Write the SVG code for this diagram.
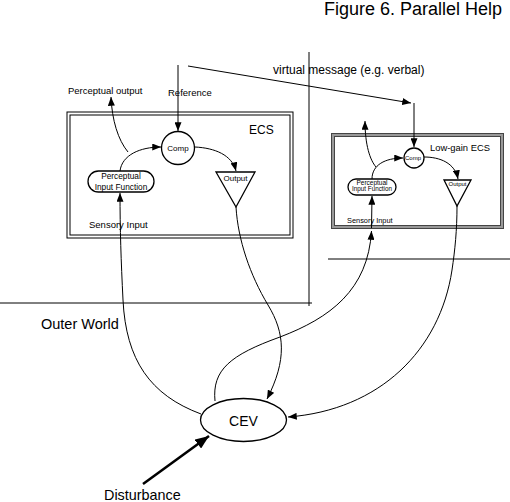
<svg xmlns="http://www.w3.org/2000/svg" width="510" height="502" viewBox="0 0 510 502">
<style>
text{font-family:"Liberation Sans",Arial,sans-serif;fill:#000}
.ln{fill:none;stroke:#000;stroke-width:1}
.sh{fill:#fff;stroke:#000;stroke-width:1.3}
</style>
<defs>
<marker id="ah" viewBox="0 0 10 8" refX="10" refY="4" markerWidth="9" markerHeight="7" markerUnits="userSpaceOnUse" orient="auto">
<path d="M0,0 L10,4 L0,8 z" fill="#000"/>
</marker>
<marker id="ahb" viewBox="0 0 10 8" refX="10" refY="4" markerWidth="14" markerHeight="11" markerUnits="userSpaceOnUse" orient="auto">
<path d="M0,0 L10,4 L0,8 z" fill="#000"/>
</marker>
</defs>
<rect width="510" height="502" fill="#fff"/>
<text x="502" y="15" font-size="18" text-anchor="end">Figure 6. Parallel Help</text>
<g id="boundaries">
<line class="ln" x1="309" y1="52" x2="309" y2="306"/>
<line class="ln" x1="0" y1="303" x2="312" y2="303"/>
<line class="ln" x1="328" y1="259" x2="510" y2="259"/>
</g>
<text x="41" y="329" font-size="14.5">Outer World</text>
<g id="ecs">
<rect x="67" y="112" width="226" height="126" fill="none" stroke="#000" stroke-width="1"/>
<rect x="70" y="115" width="220" height="120" fill="none" stroke="#000" stroke-width="1"/>
<text x="249" y="134" font-size="12">ECS</text>
<text x="89" y="228" font-size="9.5">Sensory Input</text>
</g>
<g id="comp">
<circle class="sh" cx="178" cy="148" r="16.5"/>
<text x="178" y="151" font-size="8" text-anchor="middle">Comp</text>
</g>
<g id="pif">
<rect class="sh" x="88" y="171" width="66" height="21" rx="10.5"/>
<text x="121" y="179" font-size="8.3" text-anchor="middle">Perceptual</text>
<text x="121" y="189.5" font-size="8.3" text-anchor="middle">Input Function</text>
</g>
<g id="output">
<polygon class="sh" points="216,172 255,172 236,207"/>
<text x="235.5" y="180.5" font-size="8" text-anchor="middle">Output</text>
</g>
<g id="lowgain-ecs">
<rect x="333" y="135" width="169" height="92" fill="none" stroke="#444" stroke-width="4"/>
<rect x="333" y="135" width="169" height="92" fill="none" stroke="#999" stroke-width="2"/>
<text x="430" y="151" font-size="9.4">Low-gain ECS</text>
<text x="347" y="222.5" font-size="7.4">Sensory Input</text>
</g>
<g id="comp2">
<circle class="sh" cx="414" cy="158" r="10"/>
<text x="413" y="160" font-size="6" text-anchor="middle">Comp</text>
</g>
<g id="pif2">
<rect class="sh" x="348" y="179" width="48" height="16" rx="8"/>
<text x="372" y="184.5" font-size="6.5" text-anchor="middle">Perceptual</text>
<text x="372" y="191" font-size="6.5" text-anchor="middle" textLength="40" lengthAdjust="spacingAndGlyphs">Input Function</text>
</g>
<g id="output2">
<polygon class="sh" points="444,180 471,180 457,206"/>
<text x="457.5" y="186" font-size="6" text-anchor="middle">Output</text>
</g>
<g id="cev">
<ellipse class="sh" cx="243.5" cy="420" rx="43" ry="21.5"/>
<text x="243.5" y="426" font-size="14" text-anchor="middle">CEV</text>
</g>
<text x="104" y="500" font-size="14.4">Disturbance</text>
<text x="68" y="94" font-size="9.5">Perceptual output</text>
<text x="168" y="96" font-size="9.5">Reference</text>
<text x="273" y="74" font-size="12">virtual message (e.g. verbal)</text>
<g id="connectors">
<line class="ln" x1="178" y1="65" x2="178" y2="131" marker-end="url(#ah)"/>
<path class="ln" d="M120,171 C122,155 140,147 161,147" marker-end="url(#ah)"/>
<path class="ln" d="M128,152 C118,140 112,120 111,97" marker-end="url(#ah)"/>
<path class="ln" d="M195,147 C215,148 232,155 236,171" marker-end="url(#ah)"/>
<path class="ln" d="M201,414 C150,395 126,360 123,300 C121,260 120,230 120,193" marker-end="url(#ah)"/>
<path class="ln" d="M236,207 C238,240 250,275 268,305 C285,333 287,360 267,399" marker-end="url(#ah)"/>
<line class="ln" x1="188" y1="66" x2="411" y2="103" marker-end="url(#ah)"/>
<line class="ln" x1="414" y1="103" x2="414" y2="147" marker-end="url(#ah)"/>
<path class="ln" d="M372,179 C372,165 385,158 403,158" marker-end="url(#ah)"/>
<path class="ln" d="M376,167 C370,160 365,145 365,121" marker-end="url(#ah)"/>
<path class="ln" d="M424,157 C440,157 455,163 458,179" marker-end="url(#ah)"/>
<line class="ln" x1="371.5" y1="228" x2="372" y2="196" marker-end="url(#ah)"/>
<path class="ln" d="M215,401 C212,370 230,355 280,337 C330,318 368,290 371.5,231" marker-end="url(#ah)"/>
<path class="ln" d="M457,206 C457,230 455,250 452,270 C440,350 380,410 288,417" marker-end="url(#ah)"/>
<line x1="143" y1="484" x2="209" y2="436" stroke="#000" stroke-width="2.5" marker-end="url(#ahb)"/>
</g>
</svg>
